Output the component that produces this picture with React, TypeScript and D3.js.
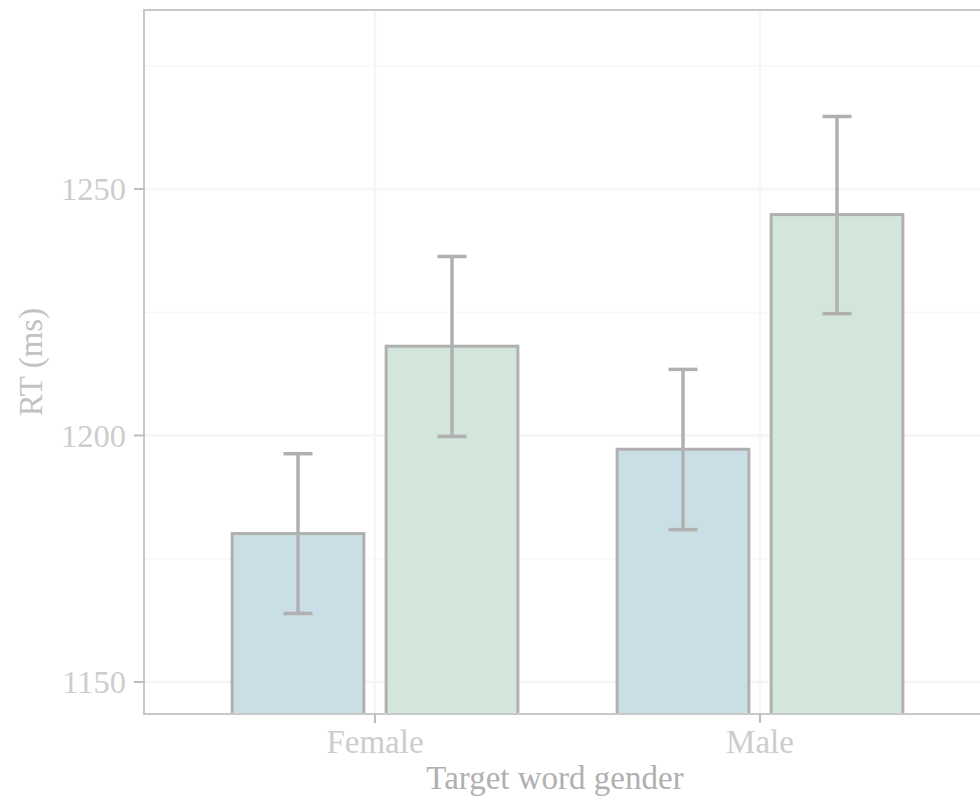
import React from 'react';
import * as d3 from 'd3';

// categories on the x axis and the two dodged conditions
const genders = ['Female', 'Male'];
const conditions = ['Congruent', 'Incongruent'];

// mean RT per gender, one array per condition
const congruentRT = [1180.1, 1197.2];
const incongruentRT = [1218.1, 1244.8];

// error bar limits (lower, upper)
const congruentLow = [1163.9, 1180.9];
const congruentHigh = [1196.3, 1213.4];
const incongruentLow = [1199.8, 1224.7];
const incongruentHigh = [1236.3, 1264.7];

const yTicks = [1150, 1200, 1250];
const yMinor = [1175, 1225, 1275];

const W = 980;
const H = 803;
const panel = { left: 144, top: 10, right: 991, bottom: 714 };

const fills = ['#c9dfe5', '#d2e6db'];
const strokeCol = '#b0b0b0';

const App = () => {
  const x = d3.scalePoint<string>().domain(genders).range([panel.left, panel.right]).padding(0.6);
  const step = x.step();
  // dodge offsets of each condition within a gender group
  const sub = d3.scalePoint<string>().domain(conditions).range([-0.2 * step, 0.2 * step]);
  const barW = 0.35 * step;
  const y = d3.scaleLinear().domain([1143.5, 1286.3]).range([panel.bottom, panel.top]);

  const means = [congruentRT, incongruentRT];
  const lows = [congruentLow, incongruentLow];
  const highs = [congruentHigh, incongruentHigh];

  const rows = genders.flatMap((g, gi) =>
    conditions.map((c, ci) => ({
      g, c, ci,
      mean: means[ci][gi],
      lo: lows[ci][gi],
      hi: highs[ci][gi],
      cx: (x(g) as number) + (sub(c) as number),
    }))
  );

  const serif = '"Liberation Serif", "Times New Roman", serif';

  return (
    <svg width={W} height={H} style={{ position: 'absolute', left: 0, top: 0, background: '#fff' }}>
      <defs>
        <clipPath id="panel-clip">
          <rect x={panel.left} y={panel.top} width={panel.right - panel.left} height={panel.bottom - panel.top} />
        </clipPath>
      </defs>
      <rect x={panel.left} y={panel.top} width={panel.right - panel.left} height={panel.bottom - panel.top} fill="#fff" />
      {/* grid */}
      <g clipPath="url(#panel-clip)">
        {yMinor.map(t => (
          <line key={'m' + t} x1={panel.left} x2={panel.right} y1={y(t)} y2={y(t)} stroke="#f8f8f8" strokeWidth={1.5} />
        ))}
        {yTicks.map(t => (
          <line key={'M' + t} x1={panel.left} x2={panel.right} y1={y(t)} y2={y(t)} stroke="#f5f5f5" strokeWidth={2.5} />
        ))}
        {genders.map(g => (
          <line key={g} x1={x(g)} x2={x(g)} y1={panel.top} y2={panel.bottom} stroke="#f5f5f5" strokeWidth={2.5} />
        ))}
        {/* bars */}
        {rows.map(r => (
          <rect
            key={r.g + r.c}
            x={r.cx - barW / 2 + 1.5}
            width={barW - 3}
            y={y(r.mean)}
            height={panel.bottom + 10 - y(r.mean)}
            fill={fills[r.ci]}
            stroke={strokeCol}
            strokeWidth={3}
          />
        ))}
        {/* error bars */}
        {rows.map(r => (
          <g key={'e' + r.g + r.c} stroke={strokeCol} strokeWidth={3.5}>
            <line x1={r.cx} x2={r.cx} y1={y(r.hi)} y2={y(r.lo)} />
            <line x1={r.cx - 14.5} x2={r.cx + 14.5} y1={y(r.hi)} y2={y(r.hi)} />
            <line x1={r.cx - 14.5} x2={r.cx + 14.5} y1={y(r.lo)} y2={y(r.lo)} />
          </g>
        ))}
      </g>
      {/* panel border */}
      <rect x={panel.left} y={panel.top} width={panel.right - panel.left} height={panel.bottom - panel.top} fill="none" stroke="#c8c8c8" strokeWidth={2} />
      {/* y axis */}
      {yTicks.map(t => (
        <g key={'yt' + t}>
          <line x1={panel.left - 10} x2={panel.left} y1={y(t)} y2={y(t)} stroke="#bdbdbd" strokeWidth={2} />
          <text x={126} y={y(t)} dy="0.34em" textAnchor="end" fontFamily={serif} fontSize={32.5} fill="#cdcdcd">
            {t}
          </text>
        </g>
      ))}
      {/* x axis */}
      {genders.map(g => (
        <g key={'xt' + g}>
          <line x1={x(g)} x2={x(g)} y1={panel.bottom} y2={panel.bottom + 9} stroke="#bdbdbd" strokeWidth={2} />
          <text x={x(g)} y={753} textAnchor="middle" fontFamily={serif} fontSize={33} fill="#cdcdcd">
            {g}
          </text>
        </g>
      ))}
      <text x={555} y={789} textAnchor="middle" fontFamily={serif} fontSize={33} fill="#b0b0b0">
        Target word gender
      </text>
      <text
        transform={`translate(42,${(panel.top + panel.bottom) / 2}) rotate(-90)`}
        textAnchor="middle"
        fontFamily={serif}
        fontSize={33}
        fill="#c2c2c2"
      >
        RT (ms)
      </text>
    </svg>
  );
};

export default App;
